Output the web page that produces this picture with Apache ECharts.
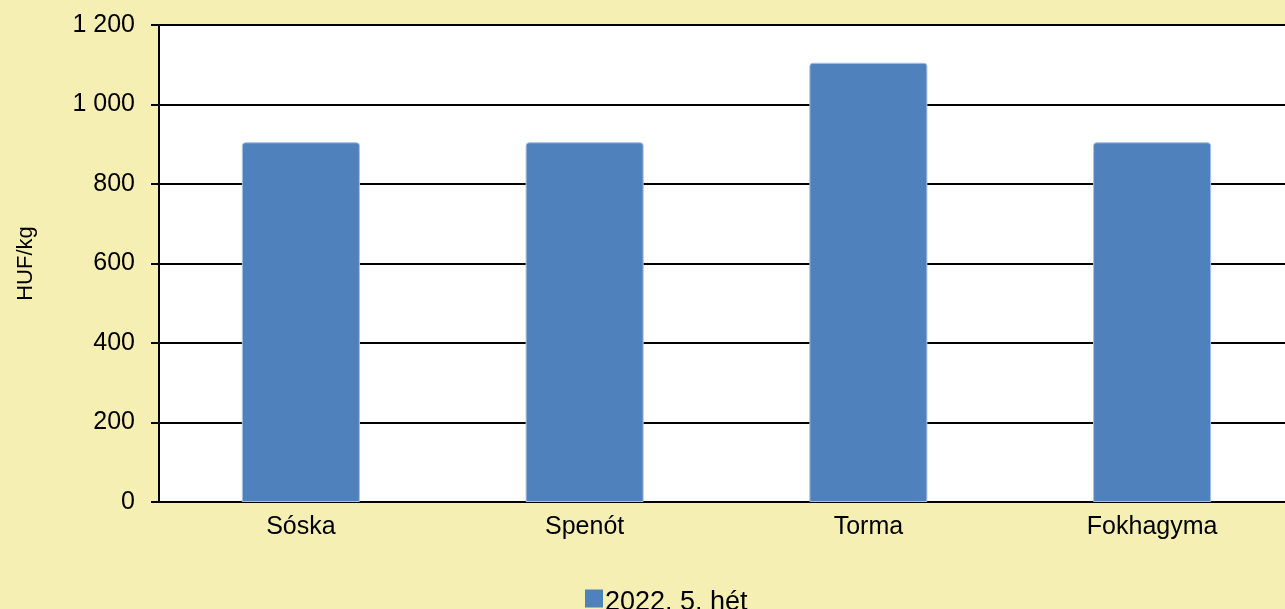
<!DOCTYPE html>
<html>
<head>
<meta charset="utf-8">
<script src="https://cdn.jsdelivr.net/npm/echarts@6/dist/echarts.min.js"></script>
<style>
  html, body { margin: 0; padding: 0; background: #f5efb4; overflow: hidden; }
  #chart { width: 1294px; height: 609px; }
</style>
</head>
<body>
<div id="chart"></div>
<script>
var categories = ["Sóska", "Spenót", "Torma", "Fokhagyma"];
var values = [905, 905, 1105, 905];
var seriesName = "2022. 5. hét";
var yTicks = { min: 0, max: 1200, interval: 200 };

function fmt(v) {
  return String(v).replace(/\B(?=(\d{3})+(?!\d))/g, " ");
}

var chart = echarts.init(document.getElementById("chart"));
chart.setOption({
  backgroundColor: "#f5efb4",
  textStyle: { fontFamily: "Liberation Sans, Arial, sans-serif" },
  grid: {
    left: 159,
    right: 0,
    top: 25,
    bottom: 107,
    show: true,
    backgroundColor: "#ffffff",
    borderWidth: 0
  },
  legend: {
    bottom: -12,
    left: 580,
    itemWidth: 18,
    itemHeight: 26,
    itemGap: 2,
    // square sits in the upper part of the icon box, like the reference
    icon: "path://M0,0L18,0L18,18L0,18Z M0,26L0.01,26L0,25.99Z",
    itemStyle: { borderWidth: 0 },
    textStyle: { fontSize: 27, color: "#000", padding: [0, 0, 0, -3] },
    data: [seriesName]
  },
  xAxis: {
    type: "category",
    data: categories,
    axisLine: { lineStyle: { color: "#000", width: 2 } },
    axisTick: { show: false },
    axisLabel: { fontSize: 25, color: "#000", margin: 13 }
  },
  yAxis: {
    type: "value",
    min: yTicks.min,
    max: yTicks.max,
    interval: yTicks.interval,
    name: "HUF/kg",
    nameLocation: "middle",
    nameGap: 122,
    nameTextStyle: { fontSize: 22, color: "#000" },
    axisLine: { show: true, lineStyle: { color: "#000", width: 2 } },
    axisTick: { show: true, length: 8, lineStyle: { color: "#000", width: 2 } },
    splitLine: { lineStyle: { color: "#000", width: 2 } },
    axisLabel: {
      fontSize: 25,
      color: "#000",
      margin: 24,
      formatter: fmt
    }
  },
  series: [{
    name: seriesName,
    type: "bar",
    data: values,
    barWidth: "41.6%",
    itemStyle: {
      color: "#4f81bd",
      borderRadius: [3, 3, 0, 0],
      borderColor: "#a9c1e0",
      borderWidth: 1
    }
  }]
});
</script>
</body>
</html>
